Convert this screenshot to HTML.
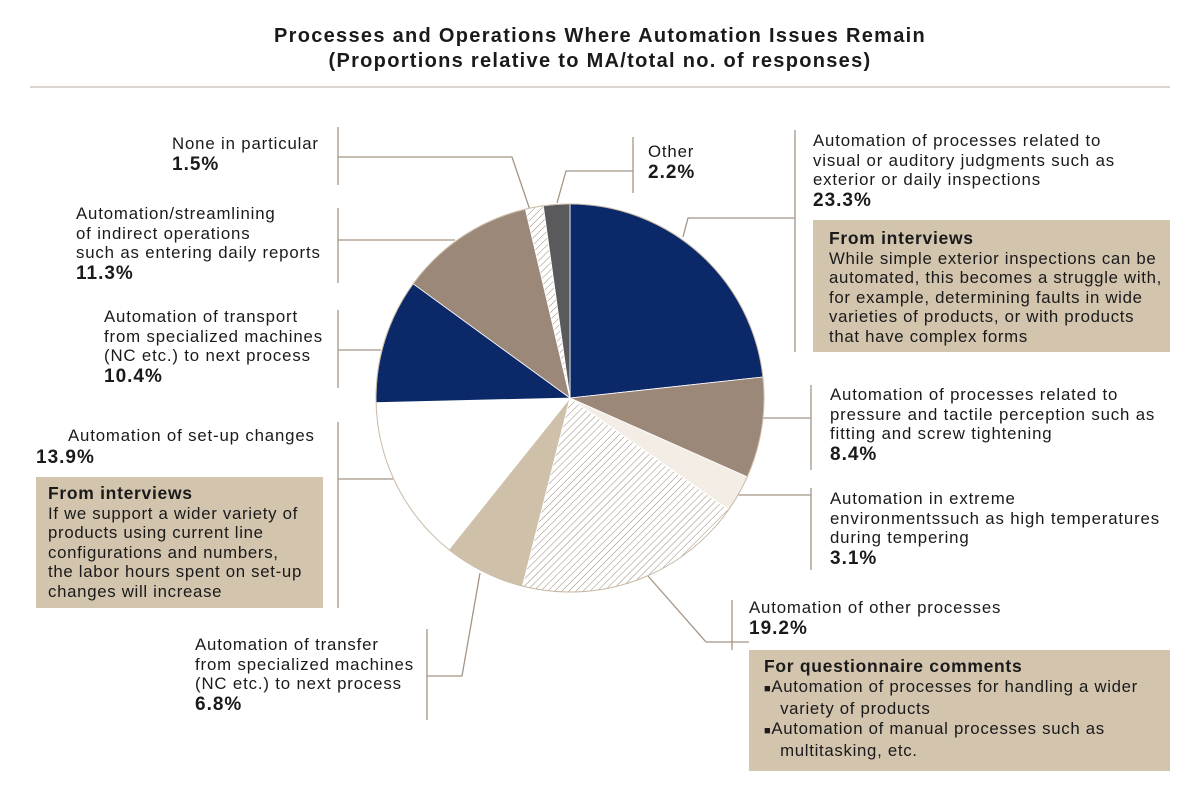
<!DOCTYPE html>
<html><head><meta charset="utf-8"><style>
body{margin:0;background:#fff;}
#c{position:relative;width:1200px;height:795px;overflow:hidden;font-family:"Liberation Sans",sans-serif;color:#1a1a1a;}
.t{position:absolute;font-size:16.8px;letter-spacing:0.85px;line-height:19.5px;white-space:nowrap;}
.p{font-weight:bold;font-size:19px;letter-spacing:1px;line-height:22px;}
.box{position:absolute;background:#d3c4ae;}
.bt{font-weight:bold;font-size:17.5px;letter-spacing:0.7px;}
svg{position:absolute;left:0;top:0;}
</style></head><body><div id="c">
<svg width="1200" height="795">
<defs><pattern id="h" width="5" height="5" patternUnits="userSpaceOnUse" patternTransform="rotate(45)"><rect width="5" height="5" fill="#fff"/><line x1="0" y1="0" x2="0" y2="5" stroke="#9c8878" stroke-width="1"/></pattern></defs>
<line x1="30" y1="87" x2="1170" y2="87" stroke="#b8aea4" stroke-width="1"/>
<g stroke="#a59585" stroke-width="1.3" fill="none">
<polyline points="795,130 795,352"/><polyline points="795,218 688,218 683,237"/>
<polyline points="338,127 338,185"/><polyline points="338,157 512,157 530,210"/>
<polyline points="633,137 633,193"/><polyline points="633,171 566,171 557,203"/>
<polyline points="338,208 338,283"/><polyline points="338,240 455,240"/>
<polyline points="338,310 338,388"/><polyline points="338,350 381,350"/>
<polyline points="338,422 338,608"/><polyline points="338,479 393,479"/>
<polyline points="427,629 427,720"/><polyline points="427,676 462,676 480,573"/>
<polyline points="732,600 732,650"/><polyline points="749,642 706,642 648,576"/>
<polyline points="811,385 811,470"/><polyline points="762,418 811,418"/>
<polyline points="811,488 811,570"/><polyline points="738,495 811,495"/>
</g>
<g stroke="#fff" stroke-width="0.8">
<path d="M570,398 L570,204 A194,194 0 0 1 762.9,377 Z" fill="#0b2869"/>
<path d="M570,398 L762.9,377 A194,194 0 0 1 747.2,476.9 Z" fill="#9c8878"/>
<path d="M570,398 L747.2,476.9 A194,194 0 0 1 728.6,509.7 Z" fill="#f3ede6"/>
<path d="M570,398 L728.6,509.7 A194,194 0 0 1 522.4,586.1 Z" fill="url(#h)"/>
<path d="M570,398 L522.4,586.1 A194,194 0 0 1 448.8,549.5 Z" fill="#cfc0aa"/>
<path d="M570,398 L448.8,549.5 A194,194 0 0 1 376.1,402.6 Z" fill="#fff"/>
<path d="M570,398 L376.1,402.6 A194,194 0 0 1 413.2,283.8 Z" fill="#0b2869"/>
<path d="M570,398 L413.2,283.8 A194,194 0 0 1 525.4,209.2 Z" fill="#9c8878"/>
<path d="M570,398 L525.4,209.2 A194,194 0 0 1 543.3,205.8 Z" fill="url(#h)"/>
<path d="M570,398 L543.3,205.8 A194,194 0 0 1 570,204 Z" fill="#5a5a5c"/>
</g>
<circle cx="570" cy="398" r="194" fill="none" stroke="#c9b9a4" stroke-width="1"/>
</svg>
<div class="t" style="left:0;width:1200px;text-align:center;top:24px;font-weight:bold;font-size:20px;letter-spacing:1.3px;line-height:25px;">Processes and Operations Where Automation Issues Remain<br>(Proportions relative to MA/total no. of responses)</div>

<div class="t" style="left:813px;top:131px;">Automation of processes related to<br>visual or auditory judgments such as<br>exterior or daily inspections<br><span class="p">23.3%</span></div>
<div class="box" style="left:813px;top:220px;width:357px;height:132px;"></div>
<div class="t" style="left:829px;top:229px;letter-spacing:0.7px;"><span class="bt">From interviews</span><br>While simple exterior inspections can be<br>automated, this becomes a struggle with,<br>for example, determining faults in wide<br>varieties of products, or with products<br>that have complex forms</div>

<div class="t" style="left:172px;top:134px;">None in particular<br><span class="p">1.5%</span></div>
<div class="t" style="left:648px;top:142px;">Other<br><span class="p">2.2%</span></div>
<div class="t" style="left:76px;top:204px;">Automation/streamlining<br>of indirect operations<br>such as entering daily reports<br><span class="p">11.3%</span></div>
<div class="t" style="left:104px;top:307px;">Automation of transport<br>from specialized machines<br>(NC etc.) to next process<br><span class="p">10.4%</span></div>
<div class="t" style="left:68px;top:426px;">Automation of set-up changes</div>
<div class="t p" style="left:36px;top:447px;">13.9%</div>
<div class="box" style="left:36px;top:477px;width:287px;height:131px;"></div>
<div class="t" style="left:48px;top:484px;letter-spacing:0.7px;"><span class="bt">From interviews</span><br>If we support a wider variety of<br>products using current line<br>configurations and numbers,<br>the labor hours spent on set-up<br>changes will increase</div>
<div class="t" style="left:195px;top:635px;">Automation of transfer<br>from specialized machines<br>(NC etc.) to next process<br><span class="p">6.8%</span></div>
<div class="t" style="left:830px;top:385px;">Automation of processes related to<br>pressure and tactile perception such as<br>fitting and screw tightening<br><span class="p">8.4%</span></div>
<div class="t" style="left:830px;top:489px;">Automation in extreme<br>environmentssuch as high temperatures<br>during tempering<br><span class="p">3.1%</span></div>
<div class="t" style="left:749px;top:598px;">Automation of other processes<br><span class="p">19.2%</span></div>
<div class="box" style="left:749px;top:650px;width:421px;height:121px;"></div>
<div class="t" style="left:764px;top:657px;line-height:19.5px;letter-spacing:0.7px;"><span class="bt">For questionnaire comments</span><br><span style="font-size:11px;">■</span>Automation of processes for handling a wider<br>&nbsp;&nbsp;&nbsp;variety of products<br><span style="display:inline-block;height:22px;vertical-align:bottom;"><span style="font-size:11px;">■</span>Automation of manual processes such as</span><br>&nbsp;&nbsp;&nbsp;multitasking, etc.</div>
</div></body></html>
